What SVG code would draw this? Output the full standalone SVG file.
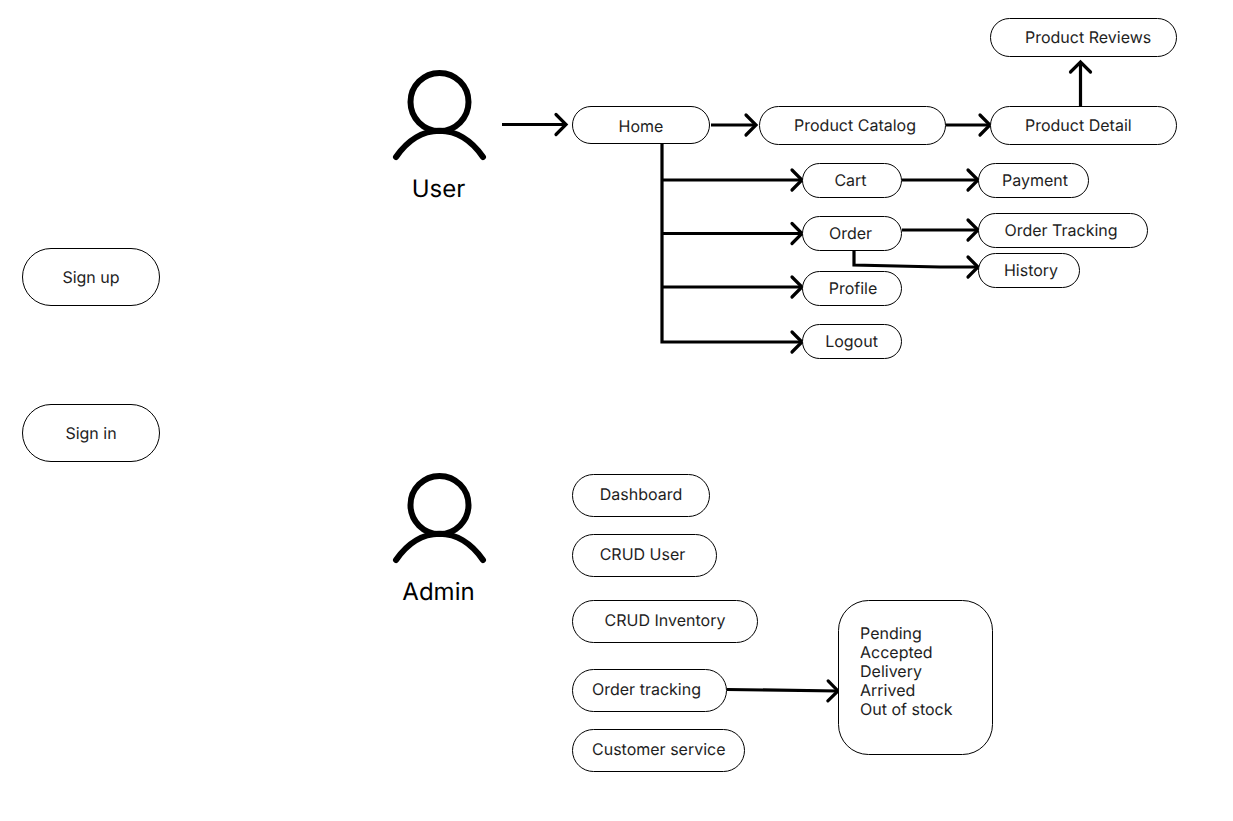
<svg xmlns="http://www.w3.org/2000/svg" width="1233" height="821" viewBox="0 0 1233 821">
<style>
text{font-family:Inter,"Liberation Sans",sans-serif;font-size:16px;fill:#1e1e1e;text-rendering:geometricPrecision;opacity:.999}
.t{font-size:24px;fill:#000}
.n{fill:#fff;stroke:#000;stroke-width:1}
.c{fill:none;stroke:#000;stroke-width:3.2}
.p{fill:none;stroke:#000;stroke-width:6;stroke-linecap:round}
</style>
<defs>
<marker id="a" markerUnits="userSpaceOnUse" markerWidth="24" markerHeight="24" refX="12" refY="10" orient="auto" overflow="visible">
<path d="M2 0L12 10L2 20" fill="none" stroke="#000" stroke-width="3.2" stroke-linecap="round" stroke-linejoin="miter"/>
</marker>
</defs>
<rect width="1233" height="821" fill="#fff"/>
<g id="connectors">
<path class="c" marker-end="url(#a)" d="M502 124.500H566"/>
<path class="c" marker-end="url(#a)" d="M711 125H756"/>
<path class="c" marker-end="url(#a)" d="M946 125H990"/>
<path class="c" marker-end="url(#a)" d="M1080.500 106V62"/>
<path class="c" marker-end="url(#a)" d="M662 144V342H802"/>
<path class="c" marker-end="url(#a)" d="M662 180H802"/>
<path class="c" marker-end="url(#a)" d="M662 233.500H802"/>
<path class="c" marker-end="url(#a)" d="M662 287H802"/>
<path class="c" marker-end="url(#a)" d="M902 180H978"/>
<path class="c" marker-end="url(#a)" d="M902 230H978"/>
<path class="c" marker-end="url(#a)" d="M854 251V265L940 267H978"/>
<path class="c" marker-end="url(#a)" d="M727 689.500L838 691"/>
</g>
<g id="user"><circle class="p" cx="439.500" cy="102" r="29"/><path class="p" d="M396 157C420 122 459 122 483 157"/><text class="t" x="438.500" y="197" text-anchor="middle">User</text></g>
<g id="admin"><circle class="p" cx="439.500" cy="505" r="29"/><path class="p" d="M396 560C420 525 459 525 483 560"/><text class="t" x="438.500" y="600" text-anchor="middle">Admin</text></g>
<g id="home"><rect class="n" x="572.500" y="106.500" width="137" height="37" rx="18.500"/><text x="641" y="132" text-anchor="middle">Home</text></g>
<g id="catalog"><rect class="n" x="759.500" y="106.500" width="186" height="38" rx="19"/><text x="855" y="131" text-anchor="middle">Product Catalog</text></g>
<g id="detail"><rect class="n" x="990.500" y="106.500" width="186" height="38" rx="19"/><text x="1025" y="131">Product Detail</text></g>
<g id="reviews"><rect class="n" x="990.500" y="18.500" width="186" height="38" rx="19"/><text x="1025" y="43">Product Reviews</text></g>
<g id="cart"><rect class="n" x="802.500" y="163.500" width="99" height="34" rx="17"/><text x="850.500" y="186" text-anchor="middle">Cart</text></g>
<g id="payment"><rect class="n" x="978.500" y="163.500" width="110" height="34" rx="17"/><text x="1035" y="186" text-anchor="middle">Payment</text></g>
<g id="order"><rect class="n" x="802.500" y="216.500" width="99" height="34" rx="17"/><text x="850.500" y="239" text-anchor="middle">Order</text></g>
<g id="order-tracking-user"><rect class="n" x="978.500" y="213.500" width="169" height="34" rx="17"/><text x="1061" y="236" text-anchor="middle">Order Tracking</text></g>
<g id="history"><rect class="n" x="978.500" y="253.500" width="101" height="34" rx="17"/><text x="1031" y="276" text-anchor="middle">History</text></g>
<g id="profile"><rect class="n" x="802.500" y="271.500" width="99" height="34" rx="17"/><text x="853" y="294" text-anchor="middle">Profile</text></g>
<g id="logout"><rect class="n" x="802.500" y="324.500" width="99" height="34" rx="17"/><text x="851.500" y="347" text-anchor="middle">Logout</text></g>
<g id="signup"><rect class="n" x="22.500" y="248.500" width="137" height="57" rx="28.500"/><text x="91" y="283" text-anchor="middle">Sign up</text></g>
<g id="signin"><rect class="n" x="22.500" y="404.500" width="137" height="57" rx="28.500"/><text x="91" y="439" text-anchor="middle">Sign in</text></g>
<g id="dashboard"><rect class="n" x="572.500" y="474.500" width="137" height="42" rx="21"/><text x="641" y="500" text-anchor="middle">Dashboard</text></g>
<g id="crud-user"><rect class="n" x="572.500" y="534.500" width="144" height="42" rx="21"/><text x="642.500" y="560" text-anchor="middle">CRUD User</text></g>
<g id="crud-inventory"><rect class="n" x="572.500" y="600.500" width="185" height="42" rx="21"/><text x="665" y="626" text-anchor="middle">CRUD Inventory</text></g>
<g id="order-tracking"><rect class="n" x="572.500" y="669.500" width="154" height="42" rx="21"/><text x="592" y="695">Order tracking</text></g>
<g id="customer-service"><rect class="n" x="572.500" y="729.500" width="172" height="42" rx="21"/><text x="592" y="755">Customer service</text></g>
<g id="status"><rect class="n" x="838.500" y="600.500" width="154" height="154" rx="30"/>
<text x="860" y="639">Pending</text><text x="860" y="658">Accepted</text><text x="860" y="677">Delivery</text><text x="860" y="696">Arrived</text><text x="860" y="715">Out of stock</text></g>
</svg>
